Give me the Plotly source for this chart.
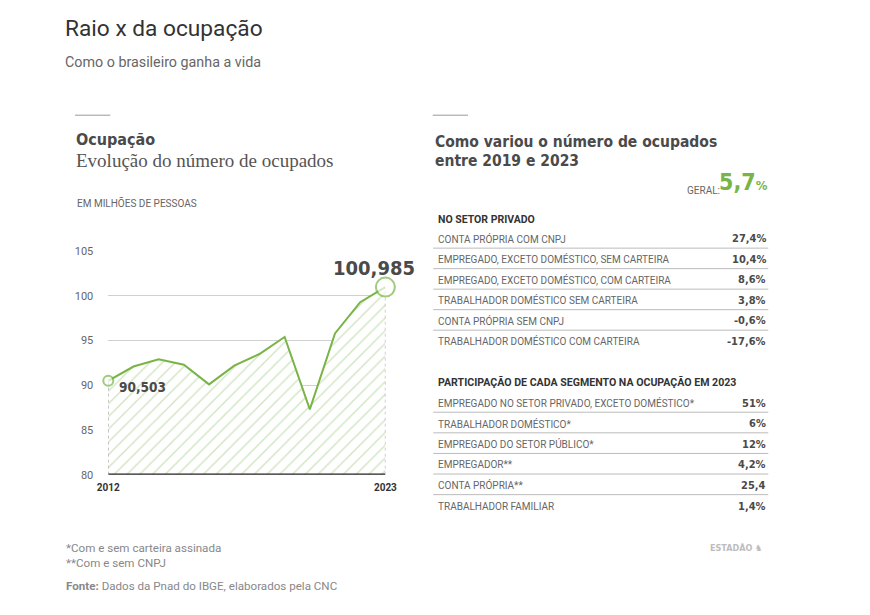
"""
Raio x da ocupação - recriação com Plotly
"""

import plotly.graph_objects as go

# Dados
anos = [2012, 2013, 2014, 2015, 2016, 2017, 2018, 2019, 2020, 2021, 2022, 2023]
ocupados = [90.503, 92.1, 92.9, 92.3, 90.1, 92.2, 93.5, 95.4, 87.3, 95.8, 99.3, 100.985]
rotulos_extremos = ["90,503", "100,985"]
ticks_y = [80, 85, 90, 95, 100, 105]

privado_labels = [
    "CONTA PRÓPRIA COM CNPJ",
    "EMPREGADO, EXCETO DOMÉSTICO, SEM CARTEIRA",
    "EMPREGADO, EXCETO DOMÉSTICO, COM CARTEIRA",
    "TRABALHADOR DOMÉSTICO SEM CARTEIRA",
    "CONTA PRÓPRIA SEM CNPJ",
    "TRABALHADOR DOMÉSTICO COM CARTEIRA",
]
privado_valores = ["27,4%", "10,4%", "8,6%", "3,8%", "-0,6%", "-17,6%"]

segmento_labels = [
    "EMPREGADO NO SETOR PRIVADO, EXCETO DOMÉSTICO*",
    "TRABALHADOR DOMÉSTICO*",
    "EMPREGADO DO SETOR PÚBLICO*",
    "EMPREGADOR**",
    "CONTA PRÓPRIA**",
    "TRABALHADOR FAMILIAR",
]
segmento_valores = ["51%", "6%", "12%", "4,2%", "25,4", "1,4%"]

geral = "5,7"

# figura um pouco menor que a janela (margem de 8px do body)
W, H = 854, 599
VERDE = "#79b447"
CINZA_ESC = "#4a4a4a"
CINZA = "#666666"
FONTE = "Roboto"
COND = "DejaVu Sans Condensed, Roboto"


def px(x):
    # posição em pixels da imagem final -> fração do papel (ajuste medido)
    x = (x - 11.6) / 0.976
    return ((x - 2.1) / 0.9895 - 8) / W


def py(y):
    y = (y + 2.2) / 1.005
    return 1 - ((y - 8.2) / 0.973 - 8) / H


fig = go.Figure()

# area hachurada + linha
fig.add_trace(go.Scatter(
    x=anos, y=ocupados,
    mode="lines",
    line=dict(color=VERDE, width=2),
    fill="tozeroy",
    fillcolor="rgba(0,0,0,0)",
    fillpattern=dict(shape="/", fgcolor="#9fc97f", bgcolor="white",
                     size=9, solidity=0.15),
    hoverinfo="skip",
))

# linhas pontilhadas verticais nos extremos
for i in [0, -1]:
    fig.add_trace(go.Scatter(
        x=[anos[i], anos[i]], y=[80, ocupados[i]],
        mode="lines",
        line=dict(color="#999999", width=1, dash="dot"),
        hoverinfo="skip",
    ))

# linha de base
fig.add_trace(go.Scatter(
    x=[anos[0], anos[-1]], y=[80, 80],
    mode="lines", line=dict(color="#222222", width=2.5),
    hoverinfo="skip",
))

# marcadores dos extremos
fig.add_trace(go.Scatter(
    x=[anos[0], anos[-1]], y=[ocupados[0], ocupados[-1]],
    mode="markers",
    marker=dict(size=[10, 19], color="white", line=dict(color=VERDE, width=2)),
    cliponaxis=False,
    hoverinfo="skip",
))

fig.add_annotation(x=anos[0], y=ocupados[0], text="<b>%s</b>" % rotulos_extremos[0],
                   xanchor="left", yanchor="middle", xshift=9, yshift=-6, showarrow=False,
                   font=dict(family=COND, size=13.5, color=CINZA_ESC))
fig.add_annotation(x=anos[-1], y=ocupados[-1], text="<b>%s</b>" % rotulos_extremos[1],
                   xanchor="right", yanchor="middle", xshift=32, yshift=19, showarrow=False,
                   font=dict(family=COND, size=20, color=CINZA_ESC))

fig.update_xaxes(
    domain=[px(110), px(385)], range=[anos[0], anos[-1]],
    tickvals=[anos[0], anos[-1]], ticktext=["<b>2012</b>", "<b>2023</b>"],
    tickfont=dict(family=FONTE, size=10, color="#333"),
    showgrid=False, zeroline=False, showline=False, ticks="",
    ticklabelstandoff=5,
)
fig.update_yaxes(
    domain=[py(474.3), py(251)], range=[80, 105],
    tickvals=ticks_y, tickfont=dict(family=FONTE, size=11, color=CINZA),
    showgrid=True, gridcolor="#d0d0d0", gridwidth=1,
    zeroline=False, showline=False, ticks="", ticklabelstandoff=14,
)


def texto(x, y, t, size, color=CINZA, family=FONTE, xanchor="left"):
    fig.add_annotation(x=px(x), y=py(y), xref="paper", yref="paper", text=t,
                       showarrow=False, xanchor=xanchor, yanchor="middle",
                       font=dict(family=family, size=size, color=color))


def linha(x0, x1, y, color="#bbbbbb", width=1):
    fig.add_shape(type="line", xref="paper", yref="paper",
                  x0=px(x0), x1=px(x1), y0=py(y), y1=py(y),
                  line=dict(color=color, width=width))


# cabeçalho
texto(65, 28, "Raio x da ocupação", 22.7, color="#333333")
texto(65, 62, "Como o brasileiro ganha a vida", 14.3, color=CINZA)

# painel esquerdo
linha(77, 112, 115, color="#999999")
texto(76, 139, "<b>Ocupação</b>", 16, color=CINZA_ESC, family=COND)
texto(76, 160, "Evolução do número de ocupados", 19, color="#555555",
      family="Liberation Serif")
texto(77, 203, "EM MILHÕES DE PESSOAS", 10, color=CINZA)

# painel direito
linha(432, 467, 115, color="#999999")
texto(432, 141.5, "<b>Como variou o número de ocupados</b>", 15.5, color=CINZA_ESC,
      family=COND)
texto(432, 160.5, "<b>entre 2019 e 2023</b>", 15.5, color=CINZA_ESC, family=COND)
texto(719, 190, "GERAL:", 10, color=CINZA, xanchor="right")
texto(767, 182, "<b>%s</b><span style='font-size:13px'><b>%%</b></span>" % geral, 23,
      color=VERDE, family=COND, xanchor="right")

texto(435, 219, "<b>NO SETOR PRIVADO</b>", 10.5, color="#333333")
y0 = 238.4
for i, (lab, val) in enumerate(zip(privado_labels, privado_valores)):
    y = y0 + i * 20.5
    texto(435, y, lab, 10, color=CINZA)
    texto(765, y, "<b>%s</b>" % val, 11, color=CINZA_ESC, xanchor="right", family=COND)
    if i < len(privado_labels) - 1:
        linha(432.5, 765, y + 9.5)

texto(435, 382.5, "<b>PARTICIPAÇÃO DE CADA SEGMENTO NA OCUPAÇÃO EM 2023</b>", 10.6,
      color="#333333")
y0 = 402.7
for i, (lab, val) in enumerate(zip(segmento_labels, segmento_valores)):
    y = y0 + i * 20.6
    texto(435, y, lab, 10, color=CINZA)
    texto(765, y, "<b>%s</b>" % val, 11, color=CINZA_ESC, xanchor="right", family=COND)
    if i < len(segmento_labels) - 1:
        linha(432.5, 765, y + 9.2)

# rodapé
texto(66, 548, "*Com e sem carteira assinada", 11.6, color="#888888")
texto(66, 563, "**Com e sem CNPJ", 11.6, color="#888888")
texto(66, 586, "<b>Fonte:</b> Dados da Pnad do IBGE, elaborados pela CNC", 11.6,
      color="#888888")
texto(761, 548, "<b>ESTADÃO</b> ♞", 9, color="#bdbdbd", xanchor="right", family=COND)

fig.update_layout(
    width=W, height=H,
    margin=dict(l=0, r=0, t=0, b=0),
    paper_bgcolor="white", plot_bgcolor="white",
    showlegend=False,
)

fig.write_html("out.html")
